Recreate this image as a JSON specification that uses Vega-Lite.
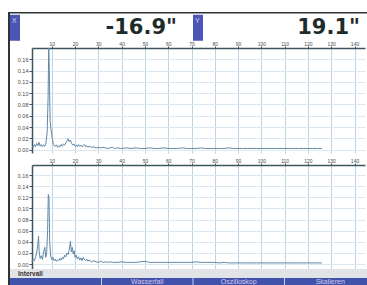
{
  "$schema": "https://vega.github.io/schema/vega-lite/v6.json",
  "background": "white",
  "padding": {"left": 8, "top": 12, "right": 0, "bottom": 0},
  "config": {"view": {"stroke": null}, "font": "Liberation Sans"},
  "datasets": {
    "upper": [
      {"freq":1.5,"amp":0.006},{"freq":2,"amp":0.004},{"freq":2.5,"amp":0.009},{"freq":3,"amp":0.005},{"freq":3.5,"amp":0.011},{"freq":4,"amp":0.007},{"freq":4.5,"amp":0.013},{"freq":5,"amp":0.006},{"freq":5.5,"amp":0.009},{"freq":6,"amp":0.005},{"freq":6.5,"amp":0.008},{"freq":7,"amp":0.006},{"freq":7.5,"amp":0.012},{"freq":8,"amp":0.03},{"freq":8.4,"amp":0.09},{"freq":8.7,"amp":0.19},{"freq":9,"amp":0.12},{"freq":9.3,"amp":0.05},{"freq":9.7,"amp":0.035},{"freq":10.2,"amp":0.02},{"freq":10.7,"amp":0.009},{"freq":11.2,"amp":0.006},{"freq":12,"amp":0.008},{"freq":12.5,"amp":0.004},{"freq":13,"amp":0.007},{"freq":13.5,"amp":0.005},{"freq":14,"amp":0.009},{"freq":14.5,"amp":0.006},{"freq":15,"amp":0.01},{"freq":15.5,"amp":0.008},{"freq":16,"amp":0.012},{"freq":16.5,"amp":0.015},{"freq":17,"amp":0.019},{"freq":17.5,"amp":0.014},{"freq":18,"amp":0.017},{"freq":18.5,"amp":0.011},{"freq":19,"amp":0.008},{"freq":19.5,"amp":0.01},{"freq":20,"amp":0.006},{"freq":20.5,"amp":0.008},{"freq":21,"amp":0.005},{"freq":21.5,"amp":0.009},{"freq":22,"amp":0.006},{"freq":22.5,"amp":0.008},{"freq":23,"amp":0.005},{"freq":23.5,"amp":0.007},{"freq":24,"amp":0.009},{"freq":24.5,"amp":0.005},{"freq":25,"amp":0.007},{"freq":25.5,"amp":0.004},{"freq":26,"amp":0.006},{"freq":27,"amp":0.004},{"freq":28,"amp":0.005},{"freq":29,"amp":0.003},{"freq":30,"amp":0.004},{"freq":31,"amp":0.003},{"freq":32,"amp":0.004},{"freq":33,"amp":0.003},{"freq":34,"amp":0.002},{"freq":35,"amp":0.003},{"freq":36,"amp":0.004},{"freq":37,"amp":0.002},{"freq":38,"amp":0.003},{"freq":40,"amp":0.002},{"freq":42,"amp":0.003},{"freq":44,"amp":0.002},{"freq":46,"amp":0.003},{"freq":48,"amp":0.002},{"freq":50,"amp":0.002},{"freq":52,"amp":0.003},{"freq":54,"amp":0.002},{"freq":56,"amp":0.002},{"freq":58,"amp":0.003},{"freq":60,"amp":0.002},{"freq":62,"amp":0.002},{"freq":64,"amp":0.002},{"freq":66,"amp":0.003},{"freq":68,"amp":0.002},{"freq":70,"amp":0.002},{"freq":72,"amp":0.002},{"freq":74,"amp":0.003},{"freq":76,"amp":0.002},{"freq":78,"amp":0.002},{"freq":80,"amp":0.002},{"freq":82,"amp":0.002},{"freq":84,"amp":0.002},{"freq":86,"amp":0.003},{"freq":88,"amp":0.002},{"freq":90,"amp":0.002},{"freq":92,"amp":0.002},{"freq":94,"amp":0.002},{"freq":96,"amp":0.002},{"freq":98,"amp":0.002},{"freq":100,"amp":0.002},{"freq":102,"amp":0.002},{"freq":104,"amp":0.002},{"freq":106,"amp":0.002},{"freq":108,"amp":0.002},{"freq":110,"amp":0.002},{"freq":112,"amp":0.002},{"freq":114,"amp":0.002},{"freq":116,"amp":0.002},{"freq":118,"amp":0.002},{"freq":120,"amp":0.002},{"freq":122,"amp":0.002},{"freq":124,"amp":0.002},{"freq":126,"amp":0.002}
    ],
    "lower": [
      {"freq":1.5,"amp":0.004},{"freq":2,"amp":0.008},{"freq":2.5,"amp":0.006},{"freq":3,"amp":0.012},{"freq":3.5,"amp":0.02},{"freq":4,"amp":0.035},{"freq":4.3,"amp":0.05},{"freq":4.6,"amp":0.02},{"freq":5,"amp":0.01},{"freq":5.5,"amp":0.015},{"freq":6,"amp":0.008},{"freq":6.5,"amp":0.022},{"freq":7,"amp":0.03},{"freq":7.4,"amp":0.012},{"freq":7.8,"amp":0.02},{"freq":8.2,"amp":0.06},{"freq":8.5,"amp":0.125},{"freq":8.8,"amp":0.12},{"freq":9.1,"amp":0.04},{"freq":9.5,"amp":0.015},{"freq":10,"amp":0.008},{"freq":10.5,"amp":0.012},{"freq":11,"amp":0.006},{"freq":11.5,"amp":0.009},{"freq":12,"amp":0.005},{"freq":12.5,"amp":0.008},{"freq":13,"amp":0.006},{"freq":13.5,"amp":0.01},{"freq":14,"amp":0.007},{"freq":14.5,"amp":0.012},{"freq":15,"amp":0.009},{"freq":15.5,"amp":0.016},{"freq":16,"amp":0.013},{"freq":16.5,"amp":0.02},{"freq":17,"amp":0.017},{"freq":17.5,"amp":0.026},{"freq":18,"amp":0.041},{"freq":18.4,"amp":0.022},{"freq":18.8,"amp":0.03},{"freq":19.2,"amp":0.018},{"freq":19.6,"amp":0.024},{"freq":20,"amp":0.012},{"freq":20.5,"amp":0.016},{"freq":21,"amp":0.009},{"freq":21.5,"amp":0.013},{"freq":22,"amp":0.007},{"freq":22.5,"amp":0.011},{"freq":23,"amp":0.006},{"freq":23.5,"amp":0.012},{"freq":24,"amp":0.008},{"freq":24.5,"amp":0.006},{"freq":25,"amp":0.009},{"freq":25.5,"amp":0.005},{"freq":26,"amp":0.007},{"freq":27,"amp":0.004},{"freq":28,"amp":0.006},{"freq":29,"amp":0.004},{"freq":30,"amp":0.003},{"freq":31,"amp":0.005},{"freq":32,"amp":0.003},{"freq":33,"amp":0.004},{"freq":34,"amp":0.003},{"freq":35,"amp":0.004},{"freq":36,"amp":0.003},{"freq":38,"amp":0.003},{"freq":40,"amp":0.004},{"freq":42,"amp":0.003},{"freq":44,"amp":0.003},{"freq":46,"amp":0.003},{"freq":48,"amp":0.004},{"freq":50,"amp":0.005},{"freq":52,"amp":0.003},{"freq":54,"amp":0.003},{"freq":56,"amp":0.003},{"freq":58,"amp":0.003},{"freq":60,"amp":0.003},{"freq":62,"amp":0.003},{"freq":64,"amp":0.003},{"freq":66,"amp":0.003},{"freq":68,"amp":0.003},{"freq":70,"amp":0.003},{"freq":72,"amp":0.004},{"freq":74,"amp":0.003},{"freq":76,"amp":0.003},{"freq":78,"amp":0.003},{"freq":80,"amp":0.003},{"freq":82,"amp":0.002},{"freq":84,"amp":0.003},{"freq":86,"amp":0.002},{"freq":88,"amp":0.002},{"freq":90,"amp":0.002},{"freq":92,"amp":0.002},{"freq":94,"amp":0.002},{"freq":96,"amp":0.002},{"freq":98,"amp":0.002},{"freq":100,"amp":0.002},{"freq":102,"amp":0.002},{"freq":104,"amp":0.002},{"freq":106,"amp":0.002},{"freq":108,"amp":0.002},{"freq":110,"amp":0.002},{"freq":112,"amp":0.002},{"freq":114,"amp":0.002},{"freq":116,"amp":0.002},{"freq":118,"amp":0.002},{"freq":120,"amp":0.002},{"freq":122,"amp":0.002},{"freq":124,"amp":0.002},{"freq":126,"amp":0.002}
    ]
  },
  "bounds": "flush",
  "spacing": 0,
  "hconcat": [
    {
      "width": 2, "height": 273,
      "data": {"values": [{}]},
      "mark": {"type": "point", "opacity": 0, "size": 0},
      "encoding": {},
      "view": {"fill": "#2e3436", "stroke": null}
    },
    {
      "bounds": "flush",
      "spacing": 0,
      "vconcat": [
        {
          "width": 357, "height": 1.5,
          "data": {"values": [{}]},
          "mark": {"type": "point", "opacity": 0, "size": 0},
          "encoding": {},
          "view": {"fill": "#2e3436", "stroke": null}
        },
        {
          "width": 357, "height": 33.5,
          "data": {"values": [{"axis": "X", "reading": "-16.9\""}, {"axis": "Y", "reading": "19.1\""}]},
          "layer": [
            {
              "mark": {"type": "point", "shape": "M0,-1.23L0.77,-1.23L0.77,0.77L0,0.77Z", "size": 676, "filled": true, "color": "#4b55b4", "opacity": 1, "strokeWidth": 0},
              "encoding": {"x": {"field": "axis", "type": "nominal", "bandPosition": 0, "scale": {"type": "band", "range": [0, 366], "paddingInner": 0, "paddingOuter": 0}, "axis": null}}
            },
            {
              "mark": {"type": "text", "align": "left", "baseline": "top", "dx": 2, "dy": -14, "fontSize": 7, "color": "#d9cdf2"},
              "encoding": {"x": {"field": "axis", "type": "nominal", "bandPosition": 0}, "text": {"field": "axis"}}
            },
            {
              "mark": {"type": "text", "align": "right", "baseline": "middle", "dx": -16, "dy": -3, "fontSize": 21, "font": "DejaVu Sans", "fontWeight": "bold", "color": "#1f2b2b"},
              "encoding": {"x": {"field": "axis", "type": "nominal", "bandPosition": 1}, "text": {"field": "reading"}}
            }
          ]
        },
        {
          "width": 357, "height": 105,
          "data": {"name": "upper"},
          "mark": {"type": "line", "color": "#5f88a8", "strokeWidth": 1, "clip": true},
          "encoding": {
            "x": {"field": "freq", "type": "quantitative",
              "scale": {"domain": [1.5, 144.5], "range": [22, 355], "nice": false, "zero": false},
              "axis": {"orient": "top", "values": [10,20,30,40,50,60,70,80,90,100,110,120,130,140], "title": null, "labelFontSize": 5, "labelColor": "#4a4a4a", "labelPadding": 0, "tickSize": 2, "tickColor": "#3d5561", "domainColor": "#3d5561", "domainWidth": 1.5, "grid": true, "gridColor": "#bdd3e6", "gridWidth": 1}},
            "y": {"field": "amp", "type": "quantitative",
              "scale": {"domain": [-0.006, 0.18], "nice": false, "zero": false},
              "axis": {"orient": "left", "offset": -22, "values": [0,0.02,0.04,0.06,0.08,0.1,0.12,0.14,0.16], "format": ".2f", "title": null, "labelFontSize": 5.5, "labelColor": "#4a4a4a", "labelPadding": 1, "tickSize": 3, "tickColor": "#3d5561", "domainColor": "#3d5561", "domainWidth": 1.5, "grid": true, "gridColor": "#dbe7f1"}}
          }
        },
        {
          "width": 357, "height": 12,
          "data": {"values": [{}]},
          "mark": {"type": "point", "opacity": 0, "size": 0},
          "encoding": {}
        },
        {
          "width": 357, "height": 103.5,
          "data": {"name": "lower"},
          "mark": {"type": "line", "color": "#5f88a8", "strokeWidth": 1, "clip": true},
          "encoding": {
            "x": {"field": "freq", "type": "quantitative",
              "scale": {"domain": [1.5, 144.5], "range": [22, 355], "nice": false, "zero": false},
              "axis": {"orient": "top", "values": [10,20,30,40,50,60,70,80,90,100,110,120,130,140], "title": null, "labelFontSize": 5, "labelColor": "#4a4a4a", "labelPadding": 0, "tickSize": 2, "tickColor": "#3d5561", "domainColor": "#3d5561", "domainWidth": 1.5, "grid": true, "gridColor": "#bdd3e6", "gridWidth": 1}},
            "y": {"field": "amp", "type": "quantitative",
              "scale": {"domain": [-0.008, 0.178], "nice": false, "zero": false},
              "axis": {"orient": "left", "offset": -22, "values": [0,0.02,0.04,0.06,0.08,0.1,0.12,0.14,0.16], "format": ".2f", "title": null, "labelFontSize": 5.5, "labelColor": "#4a4a4a", "labelPadding": 1, "tickSize": 3, "tickColor": "#3d5561", "domainColor": "#3d5561", "domainWidth": 1.5, "grid": true, "gridColor": "#dbe7f1"}}
          }
        },
        {
          "width": 357, "height": 9,
          "data": {"values": [{"key": "F1", "label": "Intervall"}]},
          "view": {"fill": "#e2e3e6", "stroke": null},
          "mark": {"type": "text", "align": "left", "baseline": "middle", "dx": 8, "fontSize": 6.5, "fontWeight": "bold", "color": "#333333"},
          "encoding": {
            "x": {"field": "key", "type": "nominal", "bandPosition": 0, "scale": {"type": "band", "domain": ["F1","F2","F3","F4"], "range": [0, 366], "paddingInner": 0, "paddingOuter": 0}, "axis": null},
            "text": {"field": "label"}
          }
        },
        {
          "width": 357, "height": 8.5,
          "data": {"values": [{"key": "F1", "label": ""}, {"key": "F2", "label": "Wasserfall"}, {"key": "F3", "label": "Oszilloskop"}, {"key": "F4", "label": "Skalieren"}]},
          "view": {"fill": "#4152ad", "stroke": null},
          "layer": [
            {
              "mark": {"type": "text", "baseline": "middle", "dy": -0.5, "fontSize": 7, "color": "#d7c9ea"},
              "encoding": {
                "x": {"field": "key", "type": "nominal", "bandPosition": 0.5, "scale": {"type": "band", "domain": ["F1","F2","F3","F4"], "range": [0, 366], "paddingInner": 0, "paddingOuter": 0}, "axis": null},
                "text": {"field": "label"}
              }
            },
            {
              "transform": [{"filter": "datum.label !== ''"}],
              "mark": {"type": "rule", "color": "#c5cdf0", "strokeWidth": 1},
              "encoding": {"x": {"field": "key", "type": "nominal", "bandPosition": 0}}
            }
          ]
        }
      ]
    }
  ]
}
